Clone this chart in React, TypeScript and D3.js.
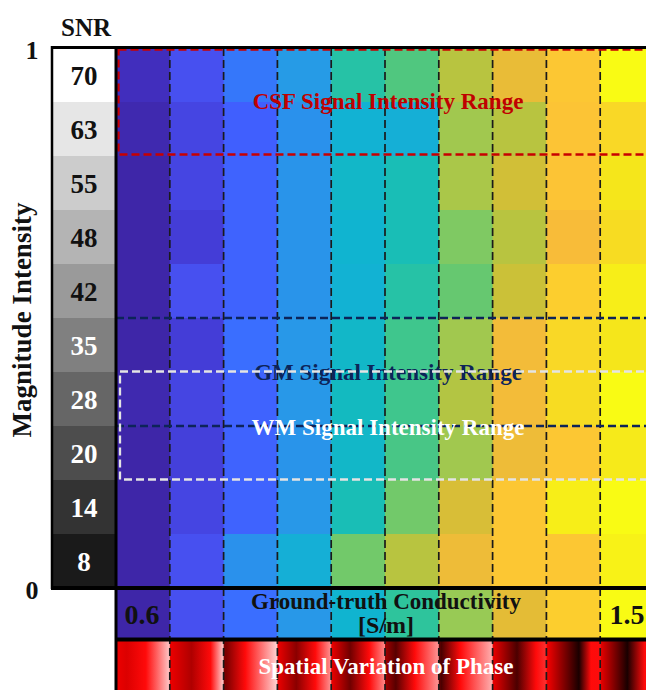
import React from 'react';
import * as d3 from 'd3';

// ---------- data ----------
const snrLevels = [70, 63, 55, 48, 42, 35, 28, 20, 14, 8];
const snrGray = [255, 230, 204, 180, 154, 128, 102, 77, 51, 26];
const groundTruth = [0.6, 0.7, 0.8, 0.9, 1.0, 1.1, 1.2, 1.3, 1.4, 1.5];

// reconstructed conductivity [S/m], one row per SNR level (top = SNR 70)
const recon70 = [0.63, 0.70, 0.82, 0.91, 1.085, 1.14, 1.235, 1.31, 1.38, 1.50];
const recon63 = [0.61, 0.68, 0.76, 0.88, 0.99, 0.98, 1.21, 1.235, 1.37, 1.42];
const recon55 = [0.60, 0.68, 0.77, 0.89, 1.02, 1.06, 1.22, 1.27, 1.37, 1.45];
const recon48 = [0.60, 0.665, 0.77, 0.89, 1.00, 1.06, 1.18, 1.235, 1.34, 1.43];
const recon42 = [0.60, 0.70, 0.77, 0.89, 0.99, 1.085, 1.16, 1.26, 1.40, 1.47];
const recon35 = [0.60, 0.665, 0.80, 0.90, 1.02, 1.12, 1.21, 1.33, 1.42, 1.45];
const recon28 = [0.61, 0.68, 0.77, 0.90, 1.04, 1.12, 1.23, 1.33, 1.43, 1.50];
const recon20 = [0.60, 0.67, 0.77, 0.89, 1.02, 1.13, 1.21, 1.32, 1.38, 1.46];
const recon14 = [0.60, 0.68, 0.77, 0.90, 1.06, 1.17, 1.28, 1.38, 1.47, 1.50];
const recon8 = [0.60, 0.70, 0.88, 0.98, 1.17, 1.235, 1.32, 1.38, 1.38, 1.48];
const reconRows = [recon70, recon63, recon55, recon48, recon42, recon35, recon28, recon20, recon14, recon8];

// parula-like colormap
const cmapPos = [0, 0.05, 0.111, 0.18, 0.222, 0.28, 0.333, 0.39, 0.444, 0.5, 0.556, 0.61, 0.667, 0.72, 0.778, 0.83, 0.889, 0.94, 1];
const cmapColors = ['#3e26a8', '#4232c8', '#4750f0', '#4060fe', '#3a6eff', '#2e86f2', '#2898e8', '#1ca8de', '#10b4d0', '#14bcbc', '#2ec49c', '#58c878', '#98ca55', '#c4c238', '#e4bc36', '#fcbc3a', '#fcce2e', '#f5e41c', '#f9fb14'];

// phase pattern per column: darkness at left edge, position & depth of dark band, lightness at right edge
const phaseLeft = [0.05, 0.05, 0.5, 0.05, 0.05, 0.35, 0.6, 0.05, 0.0, 0.05];
const phasePeak = [0.2, 0.4, 0.05, 0.35, 0.35, 0.2, 0.05, 0.45, 0.6, 0.5];
const phaseDepth = [0.12, 0.3, 0.5, 0.45, 0.55, 0.65, 0.7, 0.7, 0.9, 0.9];
const phaseEdge = [0.8, 0.85, 0.85, 0.6, 0.55, 0.6, 0.7, 0.2, 0.05, 0.0];

const magTicks = [0, 1];

// ---------- layout ----------
const W = 646;
const H = 690;
const FONT = "'Liberation Serif', 'Times New Roman', serif";

export default function App() {
  const x = d3.scaleBand<number>().domain(d3.range(10)).range([116, 654]);
  const y = d3.scaleBand<number>().domain(d3.range(10)).range([48, 588]);
  const mag = d3.scaleLinear().domain([0, 1]).range([588, 48]);
  const color = d3
    .scaleLinear<string>()
    .domain(cmapPos.map((p) => 0.6 + 0.9 * p))
    .range(cmapColors)
    .interpolate(d3.interpolateRgb)
    .clamp(true);

  const cw = x.bandwidth();
  const ch = y.bandwidth();
  const condTop = 588;
  const condBot = 639;
  const phaseTop = 641;
  const darkScale = d3.interpolateRgb('#fa0000', '#000000');
  const edgeScale = d3.interpolateRgb('#fa0000', '#ffffff');

  return (
    <svg width={W} height={H} style={{ position: 'absolute', left: 0, top: 0, background: '#fff' }} fontFamily={FONT}>
      <defs>
        {groundTruth.map((_, i) => {
          const p = phasePeak[i];
          return (
            <linearGradient key={i} id={`ph${i}`} x1="0" x2="1" y1="0" y2="0">
              <stop offset="0" stopColor={darkScale(phaseLeft[i])} />
              <stop offset={p} stopColor={darkScale(phaseDepth[i])} />
              <stop offset={Math.min(p + 0.35, 0.82)} stopColor="#ff0a0a" />
              <stop offset="1" stopColor={edgeScale(phaseEdge[i])} />
            </linearGradient>
          );
        })}
      </defs>

      {/* SNR column */}
      {snrLevels.map((s, r) => (
        <g key={s}>
          <rect x={51} y={y(r)} width={65} height={ch} fill={`rgb(${snrGray[r]},${snrGray[r]},${snrGray[r]})`} />
          <text
            x={84}
            y={y(r)! + ch / 2 + 9.5}
            textAnchor="middle"
            fontSize={27}
            fontWeight="bold"
            fill={snrGray[r] > 140 ? '#111' : '#fff'}
          >
            {s}
          </text>
        </g>
      ))}
      <text x={86} y={36} textAnchor="middle" fontSize={25} fontWeight="bold" fill="#111">SNR</text>

      {/* heatmap cells */}
      {reconRows.map((row, r) =>
        row.map((v, c) => (
          <rect key={`${r}-${c}`} x={x(c)} y={y(r)} width={cw + 0.5} height={ch + 0.5} fill={color(v)} />
        ))
      )}

      {/* ground-truth bar */}
      {groundTruth.map((g, c) => (
        <rect key={`gt${c}`} x={x(c)} y={condTop} width={cw + 0.5} height={condBot - condTop} fill={color(g)} />
      ))}

      {/* phase bar */}
      {groundTruth.map((g, c) => (
        <rect key={`ph${c}`} x={x(c)} y={phaseTop} width={cw + 0.5} height={H - phaseTop} fill={`url(#ph${c})`} />
      ))}

      {/* dashed column separators */}
      {d3.range(1, 10).map((c) => (
        <line
          key={`v${c}`}
          x1={x(c)}
          x2={x(c)}
          y1={48}
          y2={H}
          stroke="#1a1a1a"
          strokeWidth={1.7}
          strokeDasharray="8 4"
        />
      ))}

      {/* CSF range */}
      <rect x={118.5} y={49.5} width={540} height={105} fill="none" stroke="#c80000" strokeWidth={2.3} strokeDasharray="8 4" />
      <text x={388} y={109} textAnchor="middle" fontSize={23} fontWeight="bold" fill="#c00000">CSF Signal Intensity Range</text>

      {/* GM range */}
      <line x1={116} x2={W} y1={318} y2={318} stroke="#0d2459" strokeWidth={2.3} strokeDasharray="8 4" />
      <line x1={116} x2={W} y1={426} y2={426} stroke="#0d2459" strokeWidth={2.3} strokeDasharray="8 4" />
      <text x={388} y={380} textAnchor="middle" fontSize={23} fontWeight="bold" fill="#0d2459">GM Signal Intensity Range</text>

      {/* WM range */}
      <rect x={120} y={371.5} width={540} height={108} fill="none" stroke="#e4e4e4" strokeWidth={2.3} strokeDasharray="8 4" />
      <text x={388} y={435} textAnchor="middle" fontSize={23} fontWeight="bold" fill="#ffffff">WM Signal Intensity Range</text>

      {/* conductivity bar labels */}
      <text x={386} y={609} textAnchor="middle" fontSize={23} fontWeight="bold" fill="#111">Ground-truth Conductivity</text>
      <text x={386} y={633} textAnchor="middle" fontSize={24} fontWeight="bold" fill="#111">[S/m]</text>
      <text x={142} y={624} textAnchor="middle" fontSize={28} fontWeight="bold" fill="#111">{d3.format('.1f')(groundTruth[0])}</text>
      <text x={627} y={624} textAnchor="middle" fontSize={28} fontWeight="bold" fill="#111">{d3.format('.1f')(groundTruth[9])}</text>

      {/* phase label */}
      <text x={386} y={674} textAnchor="middle" fontSize={23} fontWeight="bold" fill="#fff">Spatial Variation of Phase</text>

      {/* frame lines */}
      <line x1={51} x2={W} y1={47.5} y2={47.5} stroke="#000" strokeWidth={3} />
      <line x1={52} x2={52} y1={46} y2={589} stroke="#000" strokeWidth={2.5} />
      <line x1={116} x2={116} y1={46} y2={H} stroke="#000" strokeWidth={3} />
      <line x1={51} x2={W} y1={588} y2={588} stroke="#000" strokeWidth={4} />
      <line x1={116} x2={W} y1={639.5} y2={639.5} stroke="#000" strokeWidth={4} />

      {/* magnitude axis */}
      {magTicks.map((t) => (
        <text key={t} x={32} y={mag(t) + 11} textAnchor="middle" fontSize={26} fontWeight="bold" fill="#111">{t}</text>
      ))}
      <text
        transform={`translate(31,320) rotate(-90)`}
        textAnchor="middle"
        fontSize={27}
        fontWeight="bold"
        fill="#111"
      >
        Magnitude Intensity
      </text>
    </svg>
  );
}
